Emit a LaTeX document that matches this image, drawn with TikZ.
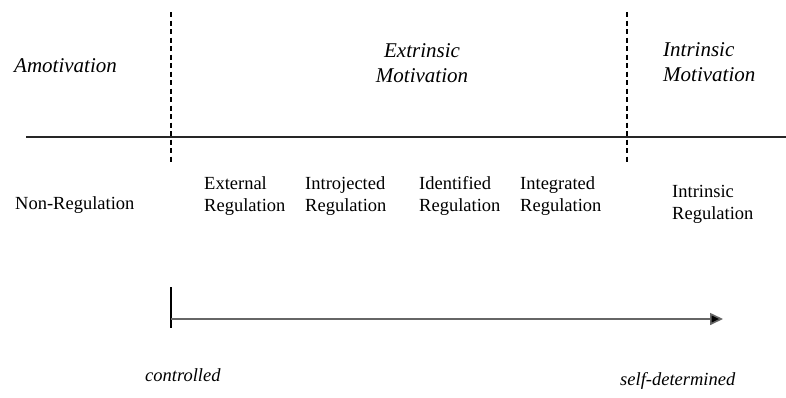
\documentclass[tikz,border=0pt]{standalone}
\usepackage{fontspec}
\setmainfont{Liberation Serif}
\usetikzlibrary{arrows.meta}
\tikzset{
  head/.style={font=\fontsize{21}{25}\selectfont\itshape, inner sep=0pt},
  reg/.style={font=\fontsize{18.5}{22}\selectfont, inner sep=0pt, align=left, anchor=base west},
  divider/.style={dashed, dash pattern=on 5pt off 3.5pt, line width=1.2pt}
}
\begin{document}
\begin{tikzpicture}[x=1pt,y=-1pt]
  \useasboundingbox (0,0) rectangle (786,397);
  % dividing lines
  \coordinate (l0) at (26,137);
  \coordinate (l1) at (786,137);
  \draw[line width=1.4pt,black!85] (l0) -- (l1);
  \coordinate (d1t) at (171,12);
  \coordinate (d1b) at (171,162);
  \coordinate (d2t) at (627,12);
  \coordinate (d2b) at (627,162);
  \draw[divider] (d1t) -- (d1b);
  \draw[divider] (d2t) -- (d2b);
  % motivation types
  \node[head,anchor=base west] (amot) at (14,72) {Amotivation};
  \node[head,align=center,anchor=base] (extr) at (422,82) {Extrinsic\\Motivation};
  \node[head,align=left,anchor=base west] (intr) at (663,81) {Intrinsic\\Motivation};
  % regulation styles
  \node[reg] (nonreg) at (15,209) {Non-Regulation};
  \node[reg] (extreg) at (204,211) {External\\Regulation};
  \node[reg] (introreg) at (305,211) {Introjected\\Regulation};
  \node[reg] (identreg) at (419,211) {Identified\\Regulation};
  \node[reg] (integreg) at (520,211) {Integrated\\Regulation};
  \node[reg] (intrreg) at (672,219) {Intrinsic\\Regulation};
  % continuum
  \coordinate (tt) at (171,287);
  \coordinate (tb) at (171,328);
  \draw[line width=1.2pt] (tt) -- (tb);
  \coordinate (a0) at (171,319);
  \coordinate (a1) at (723,319);
  \draw[line width=1.6pt,black!60,-{Triangle[length=13pt,width=12pt,fill=black]}] (a0) -- (a1);
  \node[head,anchor=base west,font=\fontsize{18.5}{22}\selectfont\itshape] (ctrl) at (145,381) {controlled};
  \node[head,anchor=base west,font=\fontsize{18.5}{22}\selectfont\itshape] (selfd) at (620,385) {self-determined};
\end{tikzpicture}
\end{document}
